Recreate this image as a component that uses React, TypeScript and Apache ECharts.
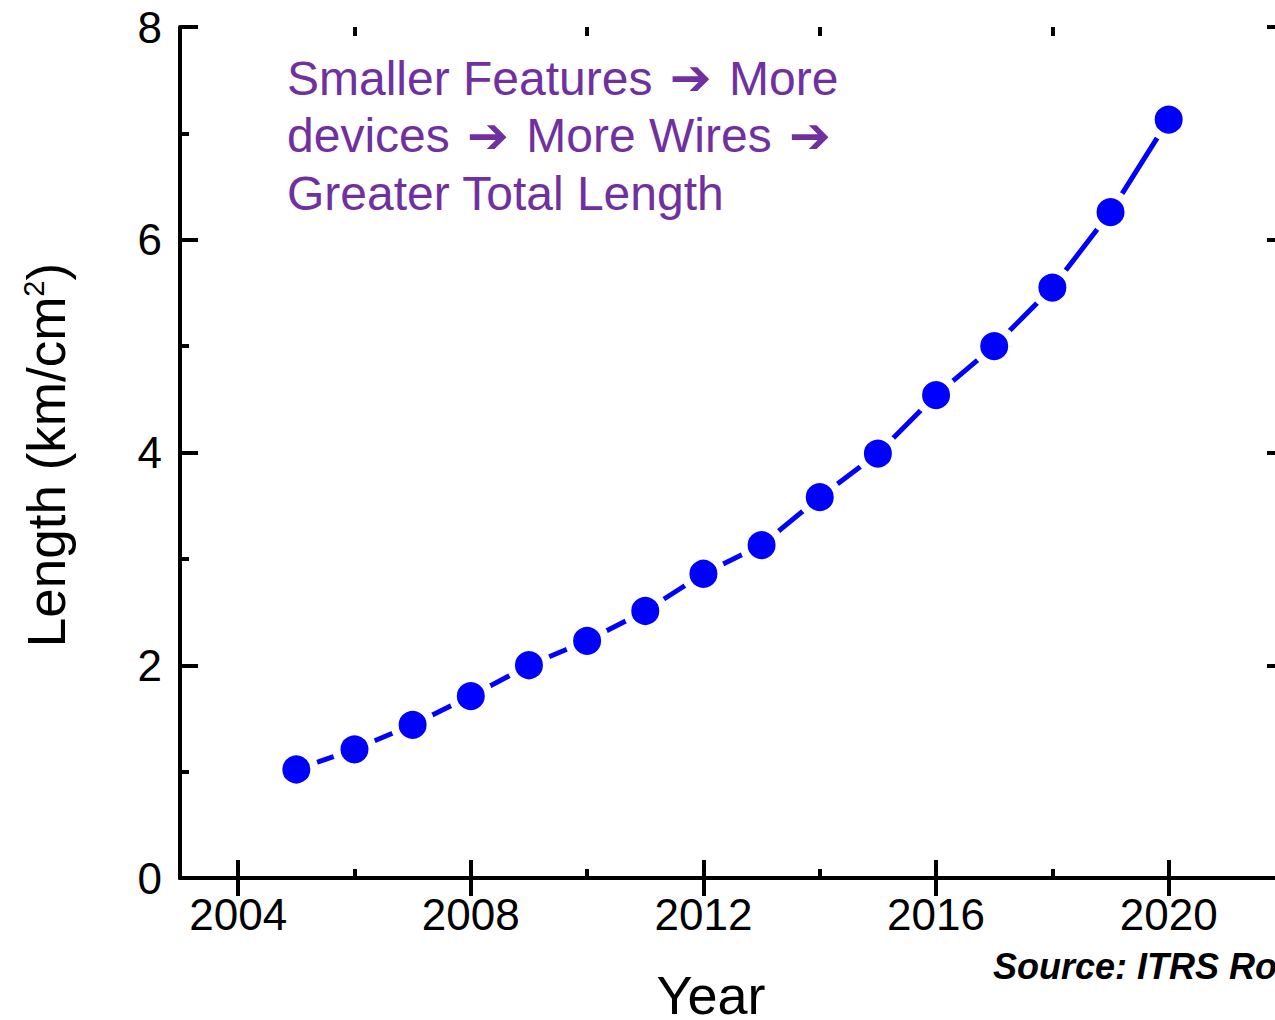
import React, { useEffect, useRef } from "react";
import * as echarts from "echarts";

const years = [2005, 2006, 2007, 2008, 2009, 2010, 2011, 2012, 2013, 2014, 2015, 2016, 2017, 2018, 2019, 2020];
const lengths = [1.02, 1.21, 1.44, 1.71, 2.0, 2.23, 2.51, 2.86, 3.13, 3.58, 3.99, 4.54, 5.0, 5.55, 6.26, 7.13];
const majorYears = [2004, 2008, 2012, 2016, 2020];
const minorYears = [2006, 2010, 2014, 2018];
const noteLines = [
  "Smaller Features {arr|\u2794} More",
  "devices {arr|\u2794} More Wires {arr|\u2794}",
  "Greater Total Length",
];
const xTitle = "Year";
const yTitle = "Length (km/cm{sup|2})";
const sourceText = "Source: ITRS Roadmap";

const FONT = "'Liberation Sans', Arial, 'DejaVu Sans', sans-serif";
const BLUE = "#0000FF";
const PURPLE = "#7030A0";

export default function App() {
  const ref = useRef<HTMLDivElement>(null);
  useEffect(() => {
    document.body.style.margin = "0";
    const chart = echarts.init(ref.current!, null, { renderer: "svg" });
    const lineStyle = { color: "#000", width: 4 };
    const baseX = { type: "value", min: 2003, max: 2022, splitLine: { show: false } };
    const option: any = {
      animation: false,
      backgroundColor: "#fff",
      grid: [
        { left: 180, top: 27, right: -10, bottom: 142, containLabel: false, outerBoundsMode: "none" },
        { left: 180, top: 27, right: -10, bottom: 142, containLabel: false, outerBoundsMode: "none" },
      ],
      xAxis: [
        {
          ...baseX,
          gridIndex: 0,
          position: "bottom",
          axisLine: { show: true, lineStyle },
          axisTick: { show: true, inside: true, length: 18, lineStyle, customValues: majorYears },
          axisLabel: {
            show: true,
            customValues: majorYears,
            formatter: (v: number) => String(v),
            fontSize: 44,
            margin: 14,
            color: "#000",
            fontFamily: FONT,
          },
        },
        {
          ...baseX,
          gridIndex: 0,
          position: "top",
          axisLine: { show: true, lineStyle },
          axisTick: { show: true, inside: true, length: 18, lineStyle, customValues: majorYears },
          axisLabel: { show: false },
        },
        {
          ...baseX,
          gridIndex: 1,
          position: "bottom",
          axisLine: { show: false },
          axisTick: { show: true, inside: true, length: 9, lineStyle, customValues: minorYears },
          axisLabel: { show: false },
        },
        {
          ...baseX,
          gridIndex: 1,
          position: "top",
          axisLine: { show: false },
          axisTick: { show: true, inside: true, length: 9, lineStyle, customValues: minorYears },
          axisLabel: { show: false },
        },
      ],
      yAxis: [
        {
          type: "value",
          gridIndex: 0,
          position: "left",
          min: 0,
          max: 8,
          interval: 2,
          splitLine: { show: false },
          axisLine: { show: true, lineStyle },
          axisTick: { show: true, inside: true, length: 18, lineStyle },
          minorTick: { show: true, splitNumber: 2, length: 9, lineStyle },
          axisLabel: { fontSize: 44, margin: 18, color: "#000", fontFamily: FONT },
        },
        {
          type: "value",
          gridIndex: 0,
          position: "right",
          min: 0,
          max: 8,
          interval: 2,
          splitLine: { show: false },
          axisLine: { show: true, lineStyle },
          axisTick: { show: true, inside: true, length: 18, lineStyle },
          minorTick: { show: true, splitNumber: 2, length: 9, lineStyle },
          axisLabel: { show: false },
        },
        { type: "value", gridIndex: 1, min: 0, max: 8, show: false },
      ],
      series: [
        {
          type: "line",
          xAxisIndex: 0,
          yAxisIndex: 0,
          data: years.map((y, i) => [y, lengths[i]]),
          symbol: "circle",
          symbolSize: 36,
          itemStyle: { color: BLUE, borderColor: "#fff", borderWidth: 8 },
          lineStyle: { color: BLUE, width: 5 },
          z: 3,
        },
      ],
      graphic: [
        ...noteLines.map((t, i) => ({
          type: "text",
          x: 287,
          y: 78 + i * 57.5,
          style: {
            text: t,
            fill: PURPLE,
            font: `48px ${FONT}`,
            fontSize: 48,
            fontFamily: FONT,
            align: "left",
            verticalAlign: "middle",
            textAlign: "left",
            textVerticalAlign: "middle",
            rich: {
              arr: {
                fontSize: 50,
                fontWeight: "bold",
                fontFamily: "'DejaVu Sans', sans-serif",
                fill: PURPLE,
                padding: [0, 4, 0, 4],
              },
            },
          },
        })),
        {
          type: "text",
          x: 711,
          y: 995,
          style: {
            text: xTitle,
            fill: "#000",
            font: `54px ${FONT}`,
            align: "center",
            verticalAlign: "middle",
            textAlign: "center",
            textVerticalAlign: "middle",
          },
        },
        {
          type: "text",
          x: 46,
          y: 455,
          rotation: Math.PI / 2,
          style: {
            text: yTitle,
            fill: "#000",
            font: `53px ${FONT}`,
            fontSize: 53,
            fontFamily: FONT,
            align: "center",
            verticalAlign: "middle",
            textAlign: "center",
            textVerticalAlign: "middle",
            rich: {
              sup: { fontSize: 29, fontFamily: FONT, fill: "#000", verticalAlign: "top", lineHeight: 53 },
            },
          },
        },
        {
          type: "text",
          x: 993,
          y: 966,
          style: {
            text: sourceText,
            fill: "#000",
            font: `italic bold 36px ${FONT}`,
            align: "left",
            verticalAlign: "middle",
            textAlign: "left",
            textVerticalAlign: "middle",
          },
        },
      ],
    };
    chart.setOption(option);
    return () => chart.dispose();
  }, []);
  return <div ref={ref} style={{ position: "fixed", left: 0, top: 0, width: 1275, height: 1020 }} />;
}
